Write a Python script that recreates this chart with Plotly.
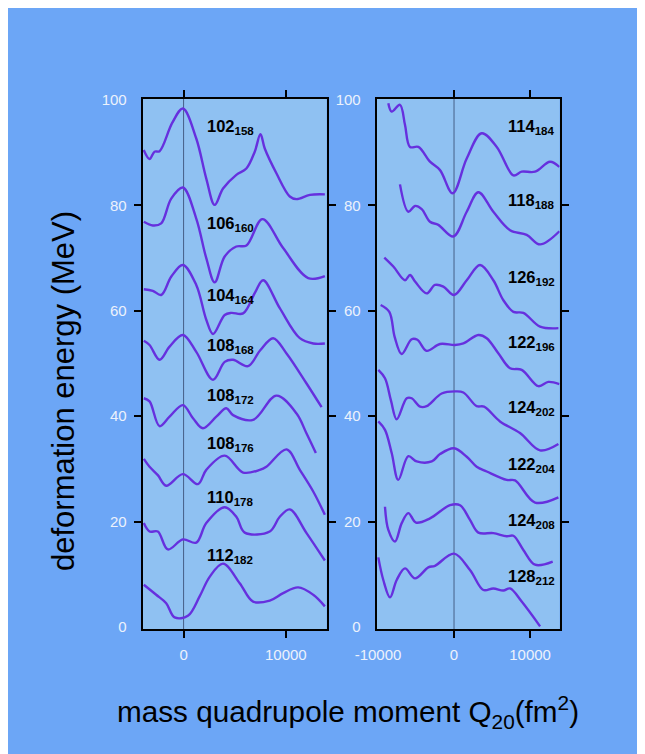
import plotly.graph_objects as go

# ---------------- data (left panel) ----------------
c102_158_x = [-3900, -3330, -2840, -2350, -1100, -70, 1240, 2220, 3040, 3860, 5160, 6140, 6960, 7520, 7940, 9080, 10390, 11050, 12350, 13820]
c102_158_y = [90.5, 88.8, 90.2, 90.3, 95.7, 98.4, 92.7, 85.1, 80.1, 83.2, 85.8, 87.0, 90.2, 93.5, 90.8, 86.1, 81.7, 81.2, 82.0, 82.1]

c106_160_x = [-3890, -3010, -2190, -1210, -70, 1240, 2220, 3040, 4020, 5160, 6150, 7710, 9740, 12190, 13820]
c106_160_y = [76.9, 76.2, 76.6, 81.3, 83.4, 77.5, 70.0, 65.4, 70.3, 72.2, 72.4, 77.4, 71.9, 66.2, 66.6]

c104_164_x = [-3890, -3010, -2190, -1200, -70, 1240, 2220, 2880, 4020, 4670, 5820, 7000, 7780, 9410, 11370, 12680, 13820]
c104_164_y = [64.1, 63.8, 63.0, 66.5, 68.7, 64.9, 58.3, 55.6, 59.2, 59.6, 59.5, 63.5, 65.8, 60.5, 54.8, 53.8, 53.8]

c108_168_x = [-3890, -3330, -2350, -1370, -70, 1240, 2880, 4020, 4840, 6300, 7500, 8760, 10070, 12030, 13500]
c108_168_y = [54.3, 53.5, 50.7, 53.2, 55.4, 52.2, 46.9, 50.3, 50.7, 49.5, 52.5, 54.8, 51.9, 46.2, 41.7]

c108_172_x = [-3890, -3330, -2350, -1370, -70, 920, 1890, 3200, 4180, 4840, 6800, 9080, 11050, 12030, 12940]
c108_172_y = [43.4, 42.8, 38.1, 39.9, 42.1, 39.6, 37.7, 39.9, 41.5, 40.2, 39.3, 43.9, 40.5, 36.7, 33.0]

c108_176_x = [-3890, -3330, -2520, -1700, -70, 1400, 2220, 4020, 5820, 7450, 8100, 10070, 11370, 12680, 13820]
c108_176_y = [31.9, 30.4, 28.8, 26.8, 29.0, 27.1, 29.8, 32.5, 29.3, 29.8, 30.4, 33.7, 29.8, 25.7, 21.3]

c110_178_x = [-3890, -3330, -2520, -1540, -70, 1240, 2220, 4020, 5160, 5980, 8430, 9410, 10390, 12030, 13820]
c110_178_y = [19.7, 18.1, 18.1, 14.7, 16.6, 16.0, 19.7, 22.7, 20.9, 17.9, 18.1, 20.9, 22.3, 17.8, 12.6]

c112_182_x = [-3890, -2680, -1700, -880, 420, 1570, 2550, 3860, 5490, 6800, 8430, 9740, 11210, 12680, 13820]
c112_182_y = [8.0, 6.1, 4.5, 1.8, 2.1, 5.8, 9.5, 12.0, 8.3, 4.8, 5.0, 6.4, 7.5, 6.1, 3.9]

# ---------------- data (right panel) ----------------
c114_184_x = [-8640, -8200, -7110, -6450, -5790, -4690, -3160, -1840, -180, 1670, 3640, 5620, 7810, 8900, 10660, 12630, 13860]
c114_184_y = [99.4, 97.8, 99.1, 95.3, 91.1, 91.1, 88.3, 86.7, 82.3, 88.9, 93.7, 91.1, 85.7, 86.4, 86.4, 88.3, 87.3]

c118_188_x = [-7110, -6010, -5130, -4250, -3160, -2060, -90, 1670, 3200, 5170, 7370, 9560, 11320, 13860]
c118_188_y = [84.0, 78.8, 79.9, 79.3, 76.9, 76.3, 74.1, 78.8, 82.5, 78.8, 75.3, 74.4, 72.6, 75.1]

c126_192_x = [-9170, -7980, -6450, -5790, -5100, -3600, -2500, -1400, 0, 1670, 3420, 5170, 6490, 7810, 9120, 11320, 13730]
c126_192_y = [70.1, 68.4, 65.8, 66.8, 65.5, 63.3, 64.9, 64.6, 63.0, 65.8, 68.7, 65.8, 62.0, 59.8, 59.6, 57.0, 56.7]

c122_196_x = [-9650, -8510, -7800, -6890, -5570, -4820, -3600, -1840, 130, 1230, 3200, 4300, 5800, 7370, 8900, 11100, 12410, 13860]
c122_196_y = [61.1, 59.8, 55.0, 51.8, 54.6, 54.5, 52.4, 53.7, 53.5, 53.8, 55.4, 54.8, 52.0, 49.1, 48.8, 45.7, 46.5, 46.1]

c124_202_x = [-9960, -9080, -8300, -7540, -6220, -5570, -4470, -3600, -1620, 130, 1230, 2980, 3950, 6050, 8680, 11320, 13730]
c124_202_y = [48.8, 47.2, 43.0, 39.4, 43.4, 43.4, 41.8, 41.9, 44.3, 44.7, 44.5, 41.9, 41.8, 39.0, 36.8, 33.5, 34.7]

c122_204_x = [-9960, -9080, -8200, -7330, -6010, -4910, -2930, -1840, 0, 1670, 2980, 4300, 6930, 8030, 10660, 13730]
c122_204_y = [39.0, 37.4, 33.0, 27.9, 32.4, 31.4, 31.4, 32.8, 33.9, 32.3, 30.4, 29.5, 27.9, 27.8, 23.6, 24.6]

c124_208_x = [-9080, -8640, -7760, -6880, -6010, -5000, -3160, -530, 790, 2100, 3200, 5170, 6930, 7810, 9120, 10660, 12980]
c124_208_y = [22.8, 18.4, 16.2, 19.7, 21.6, 19.8, 20.6, 23.1, 23.1, 20.3, 17.9, 17.8, 17.2, 17.3, 14.6, 11.8, 12.4]

c128_212_x = [-9960, -9300, -8420, -7540, -6450, -5130, -3380, -2500, 0, 2100, 3860, 5170, 6490, 7370, 8900, 11320]
c128_212_y = [13.2, 8.9, 5.6, 8.9, 11.1, 9.2, 11.3, 11.6, 13.9, 10.8, 7.0, 7.3, 6.9, 7.3, 4.8, 0.1]

left_curves = [
    ("102", "158", c102_158_x, c102_158_y, 95.1),
    ("106", "160", c106_160_x, c106_160_y, 76.6),
    ("104", "164", c104_164_x, c104_164_y, 63.0),
    ("108", "168", c108_168_x, c108_168_y, 53.5),
    ("108", "172", c108_172_x, c108_172_y, 44.0),
    ("108", "176", c108_176_x, c108_176_y, 34.9),
    ("110", "178", c110_178_x, c110_178_y, 24.7),
    ("112", "182", c112_182_x, c112_182_y, 13.7),
]
right_curves = [
    ("114", "184", c114_184_x, c114_184_y, 95.1),
    ("118", "188", c118_188_x, c118_188_y, 81.0),
    ("126", "192", c126_192_x, c126_192_y, 66.5),
    ("122", "196", c122_196_x, c122_196_y, 54.1),
    ("124", "202", c124_202_x, c124_202_y, 41.8),
    ("122", "204", c122_204_x, c122_204_y, 30.9),
    ("124", "208", c124_208_x, c124_208_y, 20.3),
    ("128", "212", c128_212_x, c128_212_y, 9.7),
]
left_label_x = 2050
right_label_x = 6800

left_xticks = [0, 10000]
right_xticks = [-10000, 0, 10000]
right_xmarks = [0, 10000]          # tick marks drawn (corner one omitted)
yticks = [0, 20, 40, 60, 80, 100]
ymarks = [20, 40, 60, 80]          # tick marks drawn (corner ones omitted)

x_title = "mass quadrupole moment Q<sub>20</sub>(fm<sup>2</sup>)"
y_title = "deformation energy (MeV)"

# ---------------- styling ----------------
BG = "rgb(108,166,246)"
PANEL = "rgb(143,193,242)"
LINE = "rgb(102,48,222)"
FONT = "Liberation Sans, Arial, sans-serif"
LABEL_FONT = "Liberation Sans, Arial, sans-serif"
TICKCOL = "rgb(236,242,252)"
CLEAR = "rgba(0,0,0,0)"
W, H = 645, 754
OX, OY = 8, 8   # page offset of the figure in the screenshot


def fx(px):
    return (px - OX) / W


def fy(py):
    return 1 - (py - OY) / H


fig = go.Figure()
annotations = []
for (a, b, xs, ys, ly) in left_curves:
    fig.add_trace(go.Scatter(x=xs, y=ys, mode="lines", xaxis="x", yaxis="y",
                             line=dict(color=LINE, width=2.4, shape="spline", smoothing=1.0),
                             showlegend=False, hoverinfo="skip"))
    annotations.append(dict(x=left_label_x, y=ly, xref="x", yref="y", xanchor="left", yanchor="middle",
                            text=f"<b>{a}<sub>{b}</sub></b>", showarrow=False, yshift=-1,
                            font=dict(family=LABEL_FONT, size=16.5, color="black")))
for (a, b, xs, ys, ly) in right_curves:
    fig.add_trace(go.Scatter(x=xs, y=ys, mode="lines", xaxis="x2", yaxis="y2",
                             line=dict(color=LINE, width=2.4, shape="spline", smoothing=1.0),
                             showlegend=False, hoverinfo="skip"))
    annotations.append(dict(x=right_label_x, y=ly, xref="x2", yref="y2", xanchor="left", yanchor="middle",
                            text=f"<b>{a}<sub>{b}</sub></b>", showarrow=False, yshift=-1,
                            font=dict(family=LABEL_FONT, size=16.5, color="black")))

annotations.append(dict(x=fx(347.5), y=fy(712), xref="paper", yref="paper", xanchor="center", yanchor="middle",
                        text=x_title, showarrow=False, font=dict(family=FONT, size=29.7, color="black")))
annotations.append(dict(x=fx(63.5), y=fy(391.5), xref="paper", yref="paper", xanchor="center", yanchor="middle",
                        text=y_title, showarrow=False, textangle=-90, font=dict(family=FONT, size=31, color="black")))


def axis_style(tick_color, mark_vals=None):
    d = dict(showline=True, linecolor="black", linewidth=2, mirror="ticks", ticks="outside",
             ticklen=7, tickwidth=2, tickcolor=tick_color, showgrid=False, zeroline=False,
             automargin=False, ticklabelstandoff=4,
             tickfont=dict(family=FONT, size=15, color=TICKCOL))
    if mark_vals is not None:
        d["minor"] = dict(tickvals=mark_vals, ticks="outside", ticklen=7, tickwidth=2,
                          tickcolor="black", showgrid=False)
    return d


yr = [-0.4, 100.2]
ydom = [fy(629), fy(99)]
fig.update_layout(
    width=W, height=H,
    autosize=False,
    margin=dict(l=0, r=0, t=0, b=0, pad=0),
    paper_bgcolor=BG, plot_bgcolor=PANEL,
    xaxis=dict(domain=[fx(142.7), fx(326.7)], range=[-4000, 14000], tickvals=left_xticks,
               ticktext=[str(v) for v in left_xticks], anchor="y", **axis_style("black")),
    yaxis=dict(domain=ydom, range=yr, tickvals=yticks, anchor="x", **axis_style(CLEAR, ymarks)),
    xaxis2=dict(domain=[fx(376.7), fx(559.7)], range=[-10170, 13900], tickvals=right_xticks,
                ticktext=[str(v) for v in right_xticks], anchor="y2", **axis_style(CLEAR, right_xmarks)),
    yaxis2=dict(domain=ydom, range=yr, tickvals=yticks, anchor="x2", **axis_style(CLEAR, ymarks)),
    annotations=annotations,
    shapes=[
        dict(type="line", xref="x", yref="y domain", x0=0, x1=0, y0=0, y1=1,
             line=dict(color="rgb(70,95,135)", width=1), layer="below"),
        dict(type="line", xref="x2", yref="y2 domain", x0=0, x1=0, y0=0, y1=1,
             line=dict(color="rgb(70,95,135)", width=1), layer="below"),
    ],
)

fig.write_html("out.html",
               post_script="document.documentElement.style.overflow='hidden';"
                           "document.body.style.overflow='hidden';")
